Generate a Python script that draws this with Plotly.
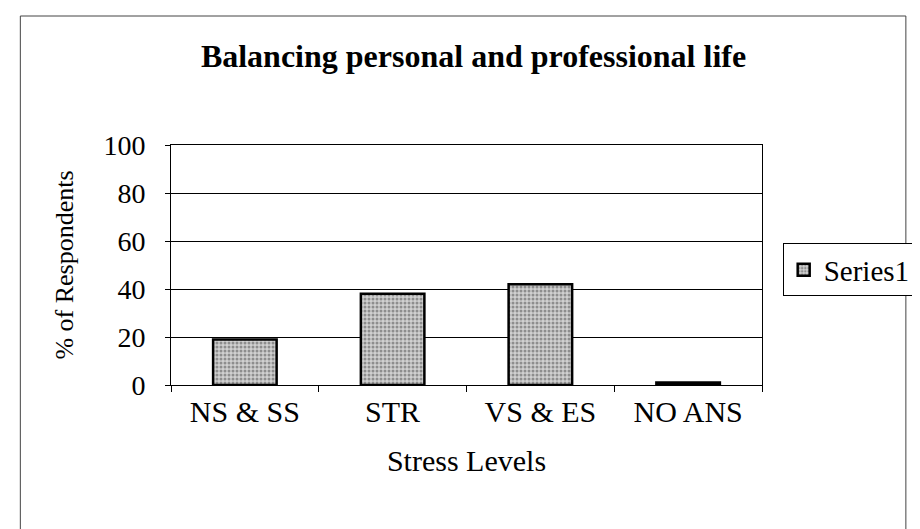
import plotly.graph_objects as go

# Stress levels vs share of respondents
stress_levels = ["NS & SS", "STR", "VS & ES", "NO ANS"]
respondents_pct = [19, 38, 42, 1]
y_ticks = [0, 20, 40, 60, 80, 100]

SERIF = "Liberation Serif, Times New Roman, serif"

fig = go.Figure()
fig.add_trace(
    go.Bar(
        x=stress_levels,
        y=respondents_pct,
        name="Series1",
        marker={
            "color": "#c8c8c8",
            "line": {"color": "black", "width": 2.5},
            "pattern": {"shape": ".", "fgcolor": "#4a4a4a", "bgcolor": "#d0d0d0", "size": 4, "solidity": 0.45},
        },
    )
)

fig.update_layout(
    width=920,
    height=529,
    paper_bgcolor="white",
    plot_bgcolor="white",
    margin={"l": 163, "r": 149, "t": 137, "b": 152},
    bargap=0.57,
    font={"family": SERIF, "color": "black", "size": 28},
    title={
        "text": "<b>Balancing personal and professional life</b>",
        "x": 0.506,
        "xanchor": "center",
        "y": 0.91,
        "yanchor": "middle",
        "font": {"family": SERIF, "size": 32, "color": "black"},
    },
    showlegend=True,
    legend={
        "x": 1.035,
        "xanchor": "left",
        "y": 0.48,
        "yanchor": "middle",
        "bordercolor": "black",
        "borderwidth": 1,
        "bgcolor": "white",
        "font": {"family": SERIF, "size": 29},
    },
    shapes=[
        dict(
            type="rect",
            xref="paper",
            yref="paper",
            x0=-155 / 608,
            x1=(919 - 163) / 608,
            y0=-150 / 240,
            y1=(377 - 8) / 240,
            line={"color": "#444444", "width": 1},
        )
    ],
)

fig.update_xaxes(
    title={"text": "Stress Levels", "font": {"size": 30}, "standoff": 22},
    tickfont={"size": 30},
    showline=True,
    linecolor="black",
    linewidth=1,
    mirror=True,
    ticks="outside",
    tickson="boundaries",
    ticklen=6,
    tickcolor="black",
    showgrid=False,
)
fig.update_yaxes(
    title={"text": "% of Respondents", "font": {"size": 26}, "standoff": 22},
    range=[0, 100],
    tickvals=y_ticks,
    tickfont={"size": 28},
    showline=True,
    linecolor="black",
    linewidth=1,
    mirror=True,
    ticks="outside",
    ticklen=5,
    tickcolor="black",
    ticklabelstandoff=14,
    showgrid=True,
    gridcolor="black",
    gridwidth=1,
    zeroline=False,
)

fig.write_html("out.html")
